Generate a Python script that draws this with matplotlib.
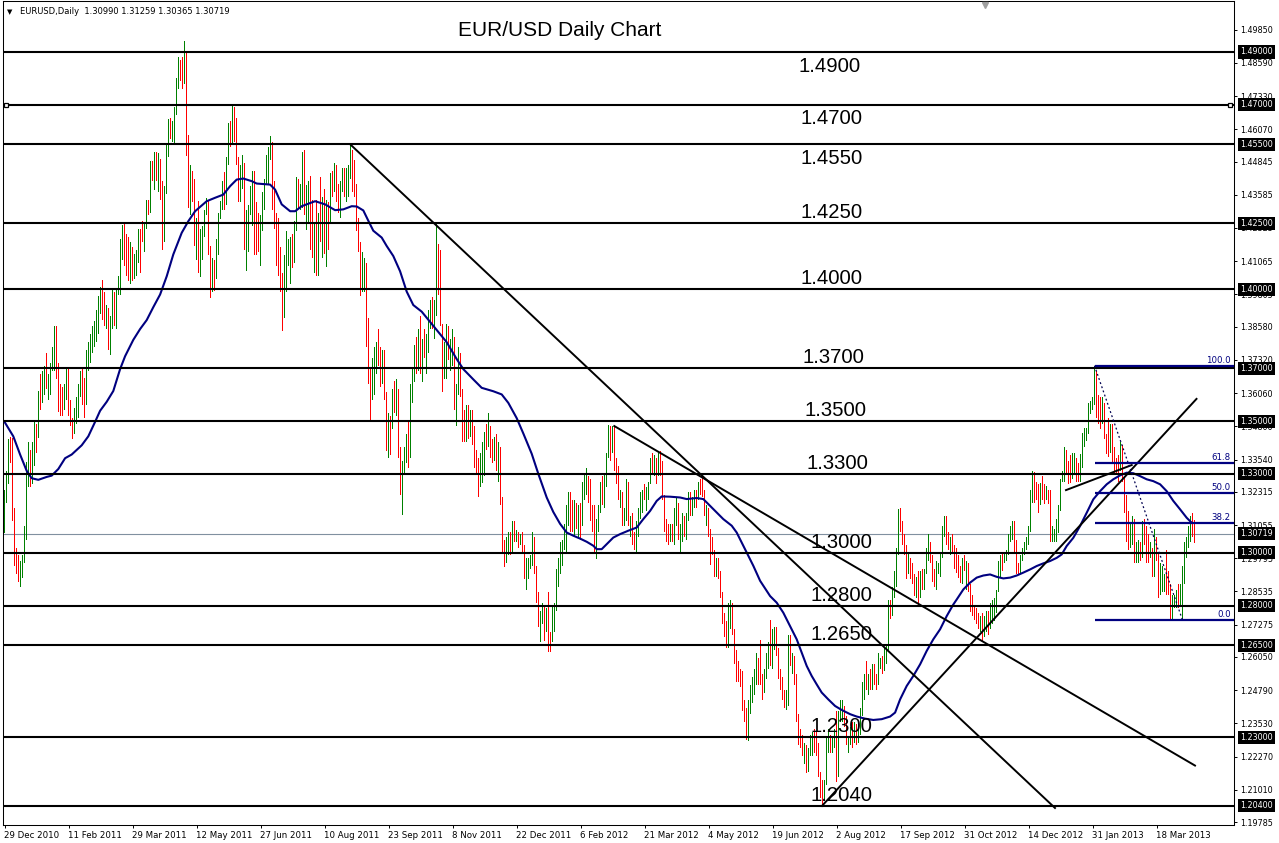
import numpy as np
import matplotlib
matplotlib.use("Agg")
import matplotlib.pyplot as plt
import matplotlib.transforms as mtransforms

# EUR/USD daily bars, 29 Dec 2010 .. 12 Apr 2013 (open = previous close)
first_open = 1.3140
highs = [
    1.3240, 1.3310, 1.3430,  # Dec 2010
    1.3440, 1.3435, 1.3170, 1.3020, 1.2990, 1.2970, 1.2990, 1.3100, 1.3345, 1.3420, 1.3390, 1.3420, 1.3500, 1.3490, 1.3615, 1.3680, 1.3690, 1.3710, 1.3760, 1.3680, 1.3720,  # Jan 2011
    1.3780, 1.3862, 1.3860, 1.3720, 1.3640, 1.3630, 1.3640, 1.3700, 1.3700, 1.3580, 1.3510, 1.3550, 1.3590, 1.3640, 1.3690, 1.3700, 1.3665, 1.3770, 1.3800, 1.3830,  # Feb
    1.3860, 1.3880, 1.3920, 1.3975, 1.4010, 1.4036, 1.3990, 1.3940, 1.3930, 1.3900, 1.4000, 1.3990, 1.4000, 1.4050, 1.4190, 1.4245, 1.4250, 1.4210, 1.4200, 1.4180, 1.4160, 1.4135, 1.4150,  # Mar
    1.4230, 1.4230, 1.4260, 1.4250, 1.4340, 1.4340, 1.4485, 1.4485, 1.4520, 1.4520, 1.4515, 1.4495, 1.4410, 1.4390, 1.4550, 1.4645, 1.4650, 1.4640, 1.4690, 1.4800, 1.4880,  # Apr
    1.4870, 1.4880, 1.4940, 1.4900, 1.4585, 1.4470, 1.4450, 1.4420, 1.4270, 1.4335, 1.4230, 1.4240, 1.4300, 1.4345, 1.4335, 1.4165, 1.4120, 1.4110, 1.4190, 1.4290, 1.4335, 1.4410,  # May
    1.4445, 1.4500, 1.4630, 1.4640, 1.4695, 1.4690, 1.4650, 1.4500, 1.4470, 1.4510, 1.4480, 1.4300, 1.4320, 1.4390, 1.4450, 1.4450, 1.4330, 1.4290, 1.4280, 1.4370, 1.4420, 1.4510,  # Jun
    1.4540, 1.4580, 1.4560, 1.4410, 1.4290, 1.4270, 1.4160, 1.4060, 1.4130, 1.4220, 1.4190, 1.4200, 1.4210, 1.4260, 1.4425, 1.4420, 1.4400, 1.4520, 1.4530, 1.4395, 1.4410,  # Jul
    1.4430, 1.4340, 1.4250, 1.4340, 1.4290, 1.4425, 1.4350, 1.4380, 1.4340, 1.4330, 1.4440, 1.4450, 1.4480, 1.4470, 1.4400, 1.4410, 1.4460, 1.4460, 1.4460, 1.4470, 1.4549, 1.4530, 1.4490,  # Aug
    1.4400, 1.4270, 1.4180, 1.4140, 1.4120, 1.4100, 1.3890, 1.3700, 1.3740, 1.3780, 1.3800, 1.3850, 1.3780, 1.3770, 1.3770, 1.3610, 1.3530, 1.3520, 1.3620, 1.3650, 1.3660, 1.3620,  # Sep
    1.3400, 1.3350, 1.3400, 1.3450, 1.3500, 1.3640, 1.3700, 1.3790, 1.3820, 1.3850, 1.3900, 1.3810, 1.3850, 1.3830, 1.3920, 1.3960, 1.3970, 1.3960, 1.4247, 1.4170, 1.4150,  # Oct
    1.3870, 1.3800, 1.3870, 1.3860, 1.3810, 1.3850, 1.3820, 1.3640, 1.3780, 1.3760, 1.3620, 1.3540, 1.3560, 1.3560, 1.3540, 1.3540, 1.3480, 1.3390, 1.3360, 1.3380, 1.3420, 1.3460,  # Nov
    1.3490, 1.3530, 1.3480, 1.3430, 1.3440, 1.3450, 1.3420, 1.3400, 1.3210, 1.3050, 1.3060, 1.3080, 1.3080, 1.3120, 1.3120, 1.3085, 1.3080, 1.3070, 1.3080, 1.3030, 1.2980, 1.2980,  # Dec
    1.2990, 1.3080, 1.3060, 1.2950, 1.2850, 1.2780, 1.2810, 1.2800, 1.2790, 1.2850, 1.2700, 1.2800, 1.2810, 1.2940, 1.2980, 1.3040, 1.3050, 1.3110, 1.3180, 1.3230, 1.3230, 1.3200,  # Jan 2012
    1.3200, 1.3190, 1.3180, 1.3190, 1.3270, 1.3300, 1.3320, 1.3290, 1.3280, 1.3180, 1.3180, 1.3130, 1.3180, 1.3270, 1.3290, 1.3300, 1.3380, 1.3486, 1.3480, 1.3480, 1.3480,  # Feb
    1.3360, 1.3330, 1.3240, 1.3230, 1.3170, 1.3280, 1.3270, 1.3140, 1.3150, 1.3080, 1.3120, 1.3170, 1.3230, 1.3240, 1.3260, 1.3250, 1.3270, 1.3360, 1.3380, 1.3370, 1.3360, 1.3380,  # Mar
    1.3385, 1.3350, 1.3220, 1.3130, 1.3110, 1.3110, 1.3110, 1.3170, 1.3210, 1.3190, 1.3110, 1.3150, 1.3140, 1.3150, 1.3230, 1.3230, 1.3210, 1.3240, 1.3240, 1.3270, 1.3280,  # Apr
    1.3283, 1.3240, 1.3180, 1.3170, 1.3090, 1.3060, 1.3010, 1.2980, 1.2980, 1.2930, 1.2850, 1.2770, 1.2740, 1.2810, 1.2820, 1.2810, 1.2710, 1.2630, 1.2590, 1.2560, 1.2550, 1.2440, 1.2410,  # May
    1.2440, 1.2500, 1.2530, 1.2560, 1.2620, 1.2600, 1.2670, 1.2540, 1.2560, 1.2620, 1.2660, 1.2745, 1.2710, 1.2720, 1.2720, 1.2640, 1.2560, 1.2530, 1.2480, 1.2480, 1.2690,  # Jun
    1.2690, 1.2620, 1.2610, 1.2540, 1.2390, 1.2330, 1.2310, 1.2280, 1.2270, 1.2260, 1.2310, 1.2320, 1.2330, 1.2320, 1.2280, 1.2170, 1.2140, 1.2140, 1.2300, 1.2330, 1.2310, 1.2300,  # Jul
    1.2330, 1.2400, 1.2400, 1.2440, 1.2440, 1.2420, 1.2380, 1.2300, 1.2340, 1.2360, 1.2360, 1.2350, 1.2360, 1.2410, 1.2510, 1.2540, 1.2590, 1.2540, 1.2560, 1.2580, 1.2580, 1.2540, 1.2620,  # Aug
    1.2600, 1.2610, 1.2640, 1.2650, 1.2820, 1.2820, 1.2870, 1.2930, 1.3020, 1.3165, 1.3170, 1.3120, 1.3070, 1.3030, 1.3000, 1.2980, 1.2960, 1.2920, 1.2910, 1.2930,  # Sep
    1.2930, 1.2940, 1.2940, 1.3020, 1.3070, 1.3040, 1.2990, 1.2940, 1.2970, 1.2960, 1.3000, 1.3100, 1.3140, 1.3140, 1.3080, 1.3060, 1.3070, 1.3030, 1.3020, 1.2990, 1.2950, 1.2980, 1.2990,  # Oct
    1.2970, 1.2960, 1.2880, 1.2840, 1.2800, 1.2790, 1.2770, 1.2760, 1.2770, 1.2760, 1.2780, 1.2780, 1.2810, 1.2820, 1.2830, 1.2860, 1.2970, 1.2990, 1.3000, 1.3000, 1.3010, 1.3070,  # Nov
    1.3100, 1.3120, 1.3120, 1.3050, 1.2960, 1.2990, 1.3020, 1.3040, 1.3060, 1.3100, 1.3240, 1.3310, 1.3305, 1.3270, 1.3260, 1.3265, 1.3290, 1.3260, 1.3255, 1.3240,  # Dec
    1.3240, 1.3100, 1.3090, 1.3130, 1.3180, 1.3280, 1.3310, 1.3400, 1.3390, 1.3350, 1.3370, 1.3380, 1.3380, 1.3360, 1.3340, 1.3375, 1.3455, 1.3475, 1.3475, 1.3570, 1.3575, 1.3590,  # Jan 2013
    1.3710, 1.3690, 1.3600, 1.3590, 1.3590, 1.3570, 1.3450, 1.3510, 1.3490, 1.3490, 1.3400, 1.3360, 1.3370, 1.3420, 1.3410, 1.3290, 1.3220, 1.3160, 1.3110, 1.3140,  # Feb
    1.3130, 1.3040, 1.3050, 1.3040, 1.3120, 1.3130, 1.3100, 1.3070, 1.3040, 1.3020, 1.3090, 1.3060, 1.3000, 1.2960, 1.2950, 1.2920, 1.3010, 1.2930, 1.2880, 1.2840, 1.2840,  # Mar
    1.2860, 1.2880, 1.2880, 1.2950, 1.3040, 1.3060, 1.3100, 1.3140, 1.3150, 1.3126,  # Apr
]
lows = [
    1.3075, 1.3190, 1.3260,
    1.3340, 1.3120, 1.2950, 1.2920, 1.2890, 1.2870, 1.2905, 1.2960, 1.3050, 1.3250, 1.3250, 1.3260, 1.3330, 1.3380, 1.3435, 1.3540, 1.3570, 1.3600, 1.3620, 1.3580, 1.3600,
    1.3690, 1.3690, 1.3660, 1.3535, 1.3520, 1.3520, 1.3540, 1.3580, 1.3520, 1.3480, 1.3430, 1.3450, 1.3490, 1.3510, 1.3590, 1.3560, 1.3510, 1.3560, 1.3690, 1.3720,
    1.3760, 1.3780, 1.3800, 1.3830, 1.3905, 1.3885, 1.3860, 1.3850, 1.3770, 1.3750, 1.3850, 1.3860, 1.3850, 1.3980, 1.3980, 1.4110, 1.4090, 1.4050, 1.4030, 1.4020, 1.4030, 1.4040, 1.4050,
    1.4100, 1.4060, 1.4180, 1.4140, 1.4230, 1.4280, 1.4290, 1.4410, 1.4375, 1.4410, 1.4370, 1.4340, 1.4150, 1.4180, 1.4360, 1.4500, 1.4570, 1.4560, 1.4550, 1.4660, 1.4760,
    1.4790, 1.4760, 1.4780, 1.4505, 1.4310, 1.4280, 1.4330, 1.4165, 1.4110, 1.4060, 1.4045, 1.4110, 1.4200, 1.4280, 1.4130, 1.3965, 1.3990, 1.3995, 1.4040, 1.4130, 1.4265, 1.4300,
    1.4300, 1.4320, 1.4470, 1.4540, 1.4555, 1.4560, 1.4470, 1.4330, 1.4330, 1.4380, 1.4150, 1.4070, 1.4140, 1.4280, 1.4240, 1.4130, 1.4130, 1.4140, 1.4090, 1.4220, 1.4300, 1.4400,
    1.4400, 1.4490, 1.4300, 1.4230, 1.4090, 1.4050, 1.3990, 1.3840, 1.3890, 1.3990, 1.4090, 1.4020, 1.4080, 1.4100, 1.4220, 1.4310, 1.4300, 1.4310, 1.4280, 1.4225, 1.4250,
    1.4150, 1.4120, 1.4060, 1.4050, 1.4050, 1.4180, 1.4120, 1.4135, 1.4085, 1.4150, 1.4250, 1.4350, 1.4370, 1.4330, 1.4290, 1.4270, 1.4370, 1.4350, 1.4330, 1.4350, 1.4420, 1.4370, 1.4350,
    1.4220, 1.4140, 1.3975, 1.3990, 1.3990, 1.3780, 1.3640, 1.3495, 1.3580, 1.3600, 1.3680, 1.3710, 1.3630, 1.3640, 1.3580, 1.3385, 1.3360, 1.3370, 1.3470, 1.3530, 1.3520, 1.3360,
    1.3220, 1.3145, 1.3300, 1.3340, 1.3320, 1.3360, 1.3570, 1.3650, 1.3680, 1.3690, 1.3680, 1.3650, 1.3740, 1.3680, 1.3760, 1.3850, 1.3850, 1.3810, 1.3900, 1.3980, 1.3860,
    1.3610, 1.3660, 1.3660, 1.3730, 1.3690, 1.3710, 1.3540, 1.3480, 1.3600, 1.3590, 1.3420, 1.3420, 1.3420, 1.3430, 1.3440, 1.3410, 1.3320, 1.3300, 1.3210, 1.3250, 1.3265, 1.3290,
    1.3390, 1.3400, 1.3360, 1.3340, 1.3350, 1.3310, 1.3270, 1.3180, 1.3000, 1.2945, 1.2960, 1.2990, 1.2990, 1.3000, 1.3040, 1.3040, 1.3020, 1.3030, 1.3000, 1.2900, 1.2860, 1.2900,
    1.2940, 1.2950, 1.2920, 1.2810, 1.2720, 1.2660, 1.2730, 1.2665, 1.2700, 1.2625, 1.2625, 1.2660, 1.2700, 1.2780, 1.2870, 1.2920, 1.2950, 1.3010, 1.3000, 1.3100, 1.3080, 1.3080,
    1.3060, 1.3090, 1.3060, 1.3050, 1.3100, 1.3200, 1.3220, 1.3190, 1.3120, 1.3080, 1.3000, 1.2975, 1.3080, 1.3150, 1.3180, 1.3170, 1.3250, 1.3360, 1.3350, 1.3380, 1.3310,
    1.3260, 1.3200, 1.3170, 1.3100, 1.3100, 1.3120, 1.3100, 1.3060, 1.3030, 1.3010, 1.3000, 1.3060, 1.3130, 1.3150, 1.3200, 1.3160, 1.3200, 1.3260, 1.3300, 1.3290, 1.3260, 1.3290,
    1.3290, 1.3200, 1.3080, 1.3040, 1.3030, 1.3040, 1.3040, 1.3030, 1.3100, 1.3050, 1.3000, 1.3040, 1.3060, 1.3050, 1.3120, 1.3140, 1.3140, 1.3170, 1.3170, 1.3200, 1.3220,
    1.3210, 1.3140, 1.3100, 1.3060, 1.2955, 1.2990, 1.2910, 1.2910, 1.2900, 1.2830, 1.2730, 1.2680, 1.2640, 1.2640, 1.2710, 1.2690, 1.2580, 1.2510, 1.2510, 1.2490, 1.2400, 1.2360, 1.2290,
    1.2286, 1.2390, 1.2430, 1.2460, 1.2500, 1.2500, 1.2500, 1.2440, 1.2470, 1.2520, 1.2560, 1.2570, 1.2560, 1.2630, 1.2610, 1.2520, 1.2480, 1.2440, 1.2410, 1.2405, 1.2420,
    1.2570, 1.2540, 1.2500, 1.2360, 1.2270, 1.2260, 1.2230, 1.2200, 1.2165, 1.2170, 1.2230, 1.2230, 1.2240, 1.2230, 1.2150, 1.2070, 1.2042, 1.2060, 1.2120, 1.2240, 1.2240, 1.2240,
    1.2260, 1.2130, 1.2150, 1.2360, 1.2360, 1.2340, 1.2270, 1.2240, 1.2270, 1.2260, 1.2280, 1.2270, 1.2280, 1.2310, 1.2380, 1.2440, 1.2480, 1.2460, 1.2480, 1.2480, 1.2500, 1.2480, 1.2500,
    1.2560, 1.2540, 1.2550, 1.2580, 1.2630, 1.2750, 1.2760, 1.2830, 1.2870, 1.2990, 1.3080, 1.3030, 1.2990, 1.2900, 1.2920, 1.2900, 1.2880, 1.2835, 1.2830, 1.2800,
    1.2830, 1.2860, 1.2860, 1.2920, 1.2970, 1.2960, 1.2890, 1.2870, 1.2860, 1.2920, 1.2910, 1.2980, 1.3060, 1.3030, 1.3010, 1.2990, 1.3000, 1.2940, 1.2925, 1.2905, 1.2885, 1.2880, 1.2930,
    1.2860, 1.2850, 1.2775, 1.2760, 1.2745, 1.2730, 1.2710, 1.2700, 1.2660, 1.2680, 1.2700, 1.2690, 1.2710, 1.2730, 1.2740, 1.2770, 1.2850, 1.2910, 1.2930, 1.2960, 1.2970, 1.2990,
    1.3040, 1.3050, 1.3000, 1.2920, 1.2920, 1.2920, 1.2970, 1.2990, 1.3010, 1.3030, 1.3080, 1.3190, 1.3190, 1.3200, 1.3150, 1.3180, 1.3200, 1.3185, 1.3200, 1.3185,
    1.3040, 1.3040, 1.3040, 1.3040, 1.3075, 1.3160, 1.3270, 1.3270, 1.3300, 1.3260, 1.3265, 1.3280, 1.3300, 1.3270, 1.3270, 1.3270, 1.3320, 1.3400, 1.3425, 1.3450, 1.3525, 1.3540,
    1.3560, 1.3510, 1.3490, 1.3470, 1.3490, 1.3430, 1.3375, 1.3365, 1.3380, 1.3340, 1.3300, 1.3300, 1.3270, 1.3310, 1.3270, 1.3150, 1.3040, 1.3010, 1.3020, 1.3030,
    1.2960, 1.2960, 1.2960, 1.2970, 1.2980, 1.3030, 1.2960, 1.2960, 1.2980, 1.2910, 1.2910, 1.2970, 1.2830, 1.2840, 1.2850, 1.2850, 1.2840, 1.2840, 1.2750, 1.2750, 1.2790,
    1.2790, 1.2790, 1.2800, 1.2745, 1.2880, 1.2980, 1.3020, 1.3040, 1.3060, 1.3037,
]
closes = [
    1.3220, 1.3280, 1.3380,
    1.3350, 1.3140, 1.2990, 1.2960, 1.2910, 1.2950, 1.2970, 1.3090, 1.3340, 1.3385, 1.3300, 1.3400, 1.3480, 1.3450, 1.3600, 1.3590, 1.3665, 1.3690, 1.3640, 1.3660, 1.3700,
    1.3770, 1.3820, 1.3680, 1.3580, 1.3550, 1.3545, 1.3620, 1.3680, 1.3540, 1.3500, 1.3470, 1.3530, 1.3570, 1.3610, 1.3680, 1.3580, 1.3570, 1.3750, 1.3780, 1.3800,
    1.3840, 1.3860, 1.3900, 1.3960, 1.3990, 1.3900, 1.3880, 1.3920, 1.3800, 1.3880, 1.3990, 1.3900, 1.3980, 1.4040, 1.4180, 1.4220, 1.4110, 1.4080, 1.4060, 1.4150, 1.4120, 1.4130, 1.4140,
    1.4220, 1.4200, 1.4190, 1.4240, 1.4320, 1.4290, 1.4470, 1.4420, 1.4500, 1.4430, 1.4490, 1.4360, 1.4190, 1.4380, 1.4530, 1.4630, 1.4580, 1.4630, 1.4680, 1.4780, 1.4850,
    1.4800, 1.4790, 1.4830, 1.4530, 1.4330, 1.4370, 1.4360, 1.4190, 1.4230, 1.4120, 1.4200, 1.4220, 1.4290, 1.4330, 1.4150, 1.4010, 1.4100, 1.4040, 1.4170, 1.4270, 1.4320, 1.4400,
    1.4330, 1.4490, 1.4620, 1.4560, 1.4660, 1.4580, 1.4490, 1.4350, 1.4430, 1.4440, 1.4170, 1.4270, 1.4300, 1.4360, 1.4430, 1.4200, 1.4180, 1.4160, 1.4260, 1.4360, 1.4410, 1.4500,
    1.4520, 1.4560, 1.4320, 1.4270, 1.4250, 1.4080, 1.4020, 1.3980, 1.4110, 1.4170, 1.4180, 1.4190, 1.4160, 1.4250, 1.4400, 1.4360, 1.4380, 1.4500, 1.4300, 1.4380, 1.4390,
    1.4180, 1.4150, 1.4230, 1.4070, 1.4270, 1.4230, 1.4320, 1.4190, 1.4310, 1.4260, 1.4410, 1.4400, 1.4460, 1.4360, 1.4330, 1.4380, 1.4440, 1.4380, 1.4440, 1.4460, 1.4500, 1.4400, 1.4370,
    1.4240, 1.4190, 1.4000, 1.4010, 1.4090, 1.3880, 1.3660, 1.3650, 1.3720, 1.3760, 1.3790, 1.3780, 1.3660, 1.3710, 1.3600, 1.3450, 1.3500, 1.3480, 1.3590, 1.3550, 1.3600, 1.3400,
    1.3240, 1.3340, 1.3370, 1.3420, 1.3380, 1.3620, 1.3670, 1.3770, 1.3720, 1.3820, 1.3700, 1.3780, 1.3760, 1.3800, 1.3890, 1.3900, 1.3880, 1.3940, 1.4210, 1.4140, 1.3870,
    1.3700, 1.3760, 1.3800, 1.3780, 1.3790, 1.3820, 1.3550, 1.3610, 1.3750, 1.3610, 1.3510, 1.3460, 1.3520, 1.3480, 1.3500, 1.3440, 1.3350, 1.3330, 1.3240, 1.3320, 1.3330, 1.3440,
    1.3420, 1.3440, 1.3400, 1.3390, 1.3410, 1.3340, 1.3380, 1.3200, 1.3020, 1.2980, 1.3020, 1.3040, 1.3010, 1.3100, 1.3060, 1.3070, 1.3050, 1.3060, 1.3020, 1.2920, 1.2950, 1.2960,
    1.2970, 1.3050, 1.2940, 1.2830, 1.2730, 1.2760, 1.2790, 1.2720, 1.2780, 1.2680, 1.2670, 1.2760, 1.2790, 1.2930, 1.2930, 1.3020, 1.3030, 1.3100, 1.3160, 1.3200, 1.3120, 1.3090,
    1.3170, 1.3150, 1.3160, 1.3120, 1.3260, 1.3270, 1.3280, 1.3200, 1.3140, 1.3120, 1.3010, 1.3110, 1.3170, 1.3240, 1.3220, 1.3280, 1.3370, 1.3450, 1.3410, 1.3440, 1.3320,
    1.3310, 1.3210, 1.3220, 1.3120, 1.3140, 1.3270, 1.3110, 1.3120, 1.3060, 1.3040, 1.3080, 1.3150, 1.3220, 1.3230, 1.3210, 1.3240, 1.3260, 1.3340, 1.3320, 1.3360, 1.3300, 1.3340,
    1.3320, 1.3220, 1.3100, 1.3080, 1.3070, 1.3100, 1.3060, 1.3140, 1.3180, 1.3070, 1.3080, 1.3130, 1.3080, 1.3140, 1.3220, 1.3160, 1.3200, 1.3230, 1.3210, 1.3250, 1.3240,
    1.3230, 1.3150, 1.3160, 1.3080, 1.3030, 1.3000, 1.2930, 1.2960, 1.2920, 1.2840, 1.2750, 1.2710, 1.2680, 1.2780, 1.2780, 1.2710, 1.2590, 1.2570, 1.2520, 1.2510, 1.2430, 1.2370, 1.2340,
    1.2420, 1.2480, 1.2510, 1.2550, 1.2600, 1.2520, 1.2510, 1.2500, 1.2540, 1.2600, 1.2640, 1.2580, 1.2690, 1.2700, 1.2630, 1.2540, 1.2500, 1.2470, 1.2430, 1.2440, 1.2670,
    1.2590, 1.2600, 1.2520, 1.2390, 1.2290, 1.2280, 1.2240, 1.2260, 1.2200, 1.2240, 1.2290, 1.2300, 1.2280, 1.2270, 1.2160, 1.2110, 1.2060, 1.2130, 1.2290, 1.2300, 1.2260, 1.2290,
    1.2310, 1.2160, 1.2390, 1.2400, 1.2410, 1.2370, 1.2280, 1.2290, 1.2330, 1.2280, 1.2340, 1.2300, 1.2330, 1.2400, 1.2490, 1.2530, 1.2500, 1.2510, 1.2500, 1.2560, 1.2520, 1.2510, 1.2580,
    1.2590, 1.2570, 1.2600, 1.2630, 1.2810, 1.2780, 1.2860, 1.2900, 1.3000, 1.3140, 1.3110, 1.3050, 1.3010, 1.2970, 1.2980, 1.2930, 1.2900, 1.2850, 1.2890, 1.2860,
    1.2910, 1.2900, 1.2930, 1.3010, 1.3040, 1.2980, 1.2910, 1.2890, 1.2940, 1.2950, 1.2990, 1.3090, 1.3110, 1.3060, 1.3020, 1.3040, 1.3010, 1.2960, 1.2950, 1.2930, 1.2900, 1.2950, 1.2940,
    1.2940, 1.2870, 1.2800, 1.2790, 1.2760, 1.2750, 1.2720, 1.2740, 1.2700, 1.2740, 1.2760, 1.2710, 1.2800, 1.2810, 1.2820, 1.2850, 1.2960, 1.2970, 1.2950, 1.2990, 1.3000, 1.3060,
    1.3090, 1.3110, 1.3020, 1.2950, 1.2930, 1.2980, 1.3010, 1.3030, 1.3050, 1.3090, 1.3220, 1.3290, 1.3220, 1.3215, 1.3180, 1.3220, 1.3210, 1.3200, 1.3230, 1.3200,
    1.3060, 1.3080, 1.3085, 1.3110, 1.3160, 1.3270, 1.3300, 1.3380, 1.3320, 1.3290, 1.3280, 1.3320, 1.3350, 1.3300, 1.3290, 1.3360, 1.3440, 1.3460, 1.3470, 1.3560, 1.3570, 1.3580,
    1.3640, 1.3520, 1.3505, 1.3490, 1.3540, 1.3450, 1.3390, 1.3380, 1.3470, 1.3360, 1.3320, 1.3310, 1.3300, 1.3400, 1.3280, 1.3180, 1.3060, 1.3040, 1.3090, 1.3120,
    1.2980, 1.3010, 1.3030, 1.2990, 1.3110, 1.3100, 1.2990, 1.2980, 1.3020, 1.2930, 1.3060, 1.2990, 1.2860, 1.2870, 1.2880, 1.2900, 1.2860, 1.2850, 1.2770, 1.2820, 1.2830,
    1.2850, 1.2820, 1.2850, 1.2940, 1.3000, 1.3040, 1.3070, 1.3110, 1.3099, 1.3072,
]

date_labels = ["29 Dec 2010", "11 Feb 2011", "29 Mar 2011", "12 May 2011", "27 Jun 2011",
               "10 Aug 2011", "23 Sep 2011", "8 Nov 2011", "22 Dec 2011", "6 Feb 2012",
               "21 Mar 2012", "4 May 2012", "19 Jun 2012", "2 Aug 2012", "17 Sep 2012",
               "31 Oct 2012", "14 Dec 2012", "31 Jan 2013", "18 Mar 2013"]
bars_per_label = 32

price_ticks = [1.49850, 1.48590, 1.47330, 1.46070, 1.44845, 1.43585, 1.42325, 1.41065,
               1.39805, 1.38580, 1.37320, 1.36060, 1.34800, 1.33540, 1.32315, 1.31055,
               1.29795, 1.28535, 1.27275, 1.26050, 1.24790, 1.23530, 1.22270, 1.21010, 1.19785]

levels = [1.4900, 1.4700, 1.4550, 1.4250, 1.4000, 1.3700, 1.3500, 1.3300, 1.3000,
          1.2800, 1.2650, 1.2300, 1.2040]
level_text = ["1.4900", "1.4700", "1.4550", "1.4250", "1.4000", "1.3700", "1.3500",
              "1.3300", "1.3000", "1.2800", "1.2650", "1.2300", "1.2040"]

current_price = 1.30719
header = "EURUSD,Daily  1.30990 1.31259 1.30365 1.30719"
title = "EUR/USD Daily Chart"

# moving average (bar index, price)
ma_idx = [0, 4.4, 7.8, 11.1, 13.6, 16.9, 21.1, 23.6, 26.9, 30.3, 33.6, 38.6, 41.9, 45.3, 47.8,
          51.1, 54.4, 57.8, 60.3, 64.4, 67.8, 71.1, 74.4, 77.8, 81.1, 84.4, 88.6, 91.9, 95.3,
          101.1, 105.3, 109.4, 112.8, 116.1, 119.4, 123.6, 126.1, 132.8, 135.3, 138.6, 142.8,
          145.3, 148.6, 155.3, 160.3, 165.3, 169.4, 173.6, 176.1, 179.4, 181.9, 184.4, 188.6,
          191.1, 194.4, 197.8, 201.1, 204.4, 208.6, 212.8, 216.9, 221.1, 226.1, 229.4, 234.4,
          238.6, 244.4, 248.6, 251.9, 256.1, 259.4, 263.6, 266.9, 271.1, 274.4, 277.8, 281.1,
          284.4, 287.8, 291.1, 294.4, 296.1, 298.6, 301.1, 304.4, 307.8, 311.9, 316.1, 319.4,
          322.8, 326.1, 328.6, 332.8, 337.8, 341.1, 346.1, 349.4, 354.4, 359.4, 363.6, 366.1,
          368.6, 371.1, 374.4, 377.8, 382.8, 386.1, 389.4, 392.8, 396.1, 398.6, 401.1, 403.6,
          406.1, 408.6, 411.9, 415.3, 418.6, 422.8, 426.1, 430.3, 434.4, 438.6, 442.8, 445.3,
          447.8, 451.1, 454.4, 457.8, 461.1, 464.4, 467.8, 471.1, 474.4, 476.1, 479.4, 482.8,
          486.1, 489.4, 492.8, 496.1, 499.4, 502.8, 506.1, 509.4, 512.8, 516.1, 519.4, 522.8,
          526.1, 528.6, 531.1, 534.4, 537.8, 541.1, 544.4, 547.8, 551.1, 554.4, 557.8, 561.1,
          564.4, 567.8, 571.1, 574.4, 577.8, 581.1, 584.4, 587.8, 591.1, 593.6]
ma_val = [1.3497, 1.3442, 1.3373, 1.3311, 1.3283, 1.3277, 1.3288, 1.3293, 1.3318, 1.3359,
          1.3373, 1.3408, 1.3442, 1.3497, 1.3539, 1.3573, 1.3614, 1.3697, 1.3746, 1.3808,
          1.3849, 1.3883, 1.3932, 1.3980, 1.4049, 1.4132, 1.4214, 1.4258, 1.4296, 1.4334,
          1.4347, 1.4359, 1.4391, 1.4416, 1.4420, 1.4410, 1.4401, 1.4397, 1.4378, 1.4322,
          1.4296, 1.4296, 1.4315, 1.4334, 1.4322, 1.4300, 1.4303, 1.4315, 1.4314, 1.4299,
          1.4260, 1.4222, 1.4196, 1.4164, 1.4126, 1.4068, 1.3991, 1.3940, 1.3915, 1.3876,
          1.3838, 1.3799, 1.3735, 1.3697, 1.3658, 1.3626, 1.3613, 1.3601, 1.3569, 1.3511,
          1.3453, 1.3376, 1.3300, 1.3210, 1.3155, 1.3110, 1.3077, 1.3065, 1.3054, 1.3042,
          1.3027, 1.3014, 1.3014, 1.3033, 1.3058, 1.3071, 1.3084, 1.3096, 1.3128, 1.3159,
          1.3197, 1.3214, 1.3213, 1.3210, 1.3204, 1.3208, 1.3204, 1.3166, 1.3128, 1.3103,
          1.3077, 1.3039, 1.3001, 1.2951, 1.2894, 1.2836, 1.2811, 1.2773, 1.2722, 1.2672,
          1.2621, 1.2571, 1.2533, 1.2501, 1.2470, 1.2444, 1.2419, 1.2404, 1.2388, 1.2379,
          1.2371, 1.2366, 1.2369, 1.2379, 1.2394, 1.2444, 1.2495, 1.2533, 1.2577, 1.2628,
          1.2672, 1.2710, 1.2760, 1.2804, 1.2823, 1.2861, 1.2887, 1.2906, 1.2914, 1.2918,
          1.2909, 1.2903, 1.2906, 1.2914, 1.2925, 1.2937, 1.2950, 1.2960, 1.2969, 1.2981,
          1.2994, 1.3026, 1.3057, 1.3102, 1.3152, 1.3203, 1.3234, 1.3260, 1.3279, 1.3294,
          1.3304, 1.3302, 1.3291, 1.3279, 1.3272, 1.3260, 1.3234, 1.3197, 1.3165, 1.3133, 1.3114]

# trend lines: ((bar, price), (bar, price))
trend_lines = [((173.25, 1.4547), (525.25, 1.2032)),
               ((304.9, 1.3481), (595.25, 1.2193)),
               ((408.75, 1.2040), (596.0, 1.3584)),
               ((530.75, 1.3238), (563.6, 1.3333))]
fib_start = 545
fib_high = 1.3710
fib_low = 1.2745
fib_end_bar = 589
fib_levels = [0.0, 38.2, 50.0, 61.8, 100.0]

# ---- geometry of the screenshot (pixels) ----
W, H = 1279, 843
left_px, right_px, top_px, bottom_px = 3, 1234, 1, 825
bar0_px, bar_px = 4.5, 2.0
ref_px, ref_price, px_per_unit = 52, 1.49, 2636.0

fig = plt.figure(figsize=(W / 100, H / 100), dpi=100)
ax = fig.add_axes([left_px / W, (H - bottom_px) / H,
                   (right_px - left_px) / W, (bottom_px - top_px) / H])
xmin = (left_px - bar0_px) / bar_px
xmax = (right_px - bar0_px) / bar_px
ytop = ref_price + (ref_px - top_px) / px_per_unit
ybot = ref_price - (bottom_px - ref_px) / px_per_unit
ax.set_xlim(xmin, xmax)
ax.set_ylim(ybot, ytop)

n = min(len(highs), len(lows), len(closes))
x = np.arange(n)
h = np.array(highs[:n])
l = np.array(lows[:n])
c = np.array(closes[:n])
o = np.concatenate([[first_open], c[:-1]])
bar_colors = np.where(c >= o, "#008000", "#ff0000")
# 1-pixel wide high-low bars
ax.bar(x, h - l, bottom=l, width=0.5, color=bar_colors, linewidth=0,
       antialiased=False, zorder=2)

ax.axhline(current_price, color="#8090a0", lw=0.8, zorder=1.5)
ax.plot(ma_idx, ma_val, color="#000080", lw=1.5, zorder=3)

for lv in levels:
    ax.axhline(lv, color="black", lw=1.5, zorder=4)
ax.plot([0.75, 612.75], [1.47, 1.47], ls="none", marker="s", ms=3.5,
        mfc="white", mec="black", mew=0.9, zorder=6, clip_on=False)

for (x0, y0), (x1, y1) in trend_lines:
    ax.plot([x0, x1], [y0, y1], color="black", lw=1.4, zorder=4)
ax.plot([fib_start, fib_end_bar], [fib_high, fib_low], color="#000050", lw=0.9,
        ls=(0, (1.5, 2)), zorder=4)

for f in fib_levels:
    p = fib_low + (fib_high - fib_low) * f / 100
    ax.hlines(p, fib_start, xmax, color="#000080", lw=1.6, zorder=4.5)
    ax.text(xmax - 1.5, p + 1.0 / px_per_unit, f"{f:.1f}", ha="right", va="bottom",
            fontsize=6.2, color="#000080", zorder=6)

label_px = [798, 801, 801, 801, 801, 802, 804, 807, 810, 810, 810, 810, 810]
for lv, txt, xp in zip(levels, level_text, label_px):
    below = lv > 1.45
    ax.annotate(txt, xy=((xp - bar0_px) / bar_px, lv),
                xytext=(0, -4.5 if below else 5), textcoords="offset pixels",
                va="top" if below else "baseline", ha="left", fontsize=14.6,
                family="Liberation Sans", zorder=6)

# right axis
ax.yaxis.tick_right()
ax.set_yticks(price_ticks)
ax.set_yticklabels([f"{t:.5f}" for t in price_ticks])
ax.tick_params(axis="y", direction="out", length=2.2, width=0.7, pad=2.2, labelsize=5.8)
trans = mtransforms.blended_transform_factory(ax.transAxes, ax.transData)
bx = 1 + (1240.5 - right_px) / (right_px - left_px)
for lv in levels + [current_price]:
    ax.text(bx, lv, f"{lv:.5f}", transform=trans, ha="left", va="center", fontsize=5.8,
            color="white", bbox=dict(boxstyle="square,pad=0.25", fc="black", ec="none"),
            clip_on=False, zorder=7)

# bottom axis
ax.set_xticks([i * bars_per_label for i in range(len(date_labels))])
ax.set_xticklabels(date_labels)
ax.tick_params(axis="x", direction="out", length=2.2, width=0.7, pad=2.0, labelsize=6.2)
for lab in ax.get_xticklabels():
    lab.set_ha("left")

for sp in ax.spines.values():
    sp.set_color("black")
    sp.set_linewidth(0.75)

# chart-shift marker at the top
ax.plot([(985 - bar0_px) / bar_px], [ytop - 4 / px_per_unit], marker="v", ms=5,
        color="#a0a0a0", mec="#a0a0a0", clip_on=False, zorder=8)

fig.text(560 / W, 1 - 30 / H, title, ha="center", va="center", fontsize=15,
         family="Liberation Sans")
fig.text(7 / W, 1 - 12 / H, "\u25bc", fontsize=5, va="center")
fig.text(20 / W, 1 - 12 / H, header, fontsize=6, va="center")

fig.savefig("out.png", dpi=100)
